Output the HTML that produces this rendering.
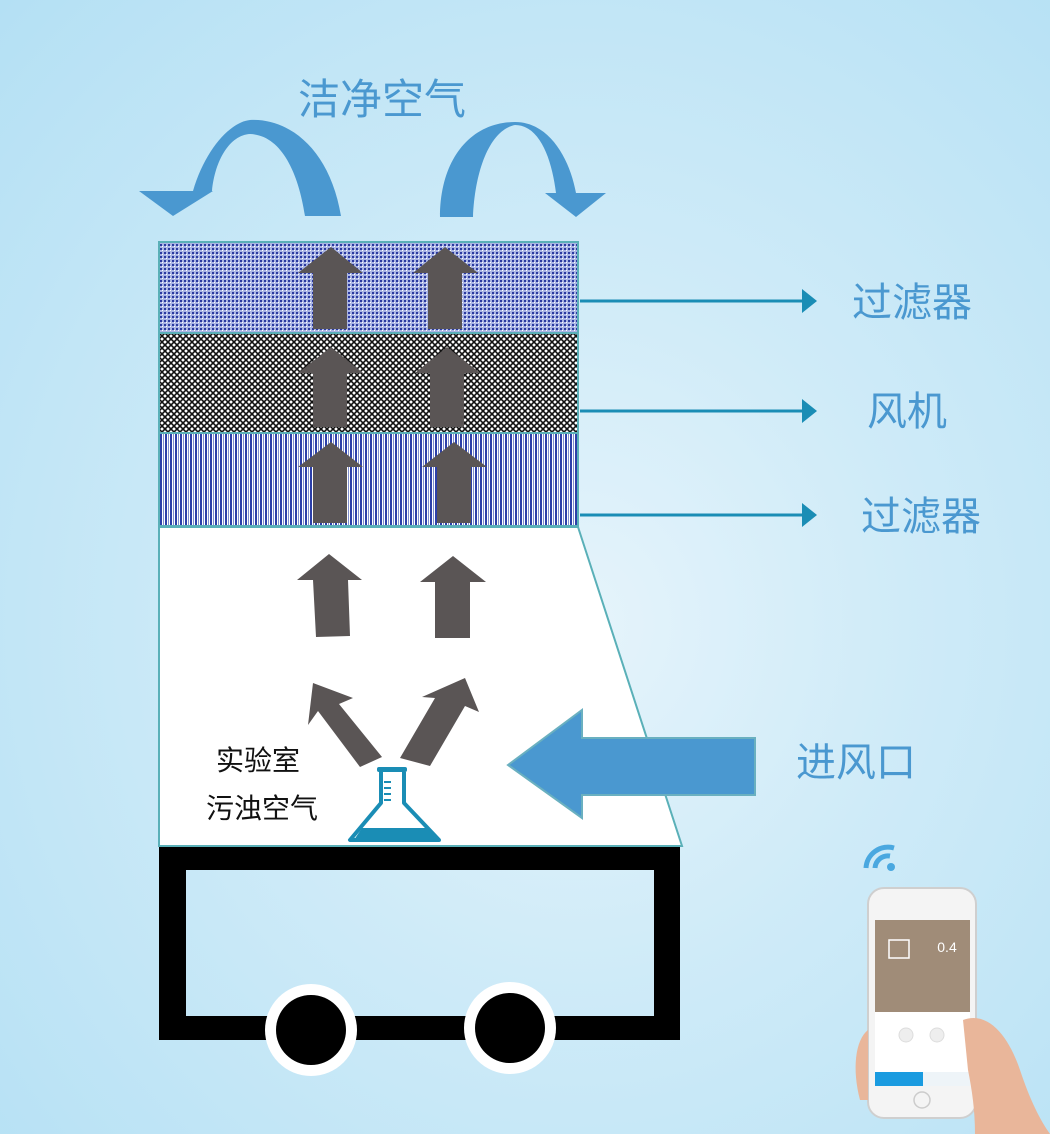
<!DOCTYPE html>
<html><head><meta charset="utf-8"><style>
html,body{margin:0;padding:0}
body{width:1050px;height:1134px;overflow:hidden;background:radial-gradient(ellipse at 55% 55%,#e6f4fb 0%,#cfebf8 40%,#b4e0f4 100%);font-family:"Liberation Sans","Noto Sans CJK SC",sans-serif}
</style></head><body>
<svg width="1050" height="1134" viewBox="0 0 1050 1134" xmlns="http://www.w3.org/2000/svg" style="position:absolute;left:0;top:0">
<defs>
<pattern id="dots" width="4" height="4" patternUnits="userSpaceOnUse"><rect width="4" height="4" fill="#aab5e4"/><rect x="0" y="0" width="2" height="2" fill="#2b3aa0"/><rect x="2" y="2" width="1" height="1" fill="#fff"/></pattern>
<pattern id="net" width="6" height="6" patternUnits="userSpaceOnUse"><rect width="6" height="6" fill="#fff"/><path d="M0 0L6 6M6 0L0 6" stroke="#111" stroke-width="1.6"/></pattern>
<pattern id="stripes" width="5" height="10" patternUnits="userSpaceOnUse"><rect width="5" height="10" fill="#fff"/><rect x="0" width="2" height="10" fill="#2c3fa8"/><rect x="3" width="1" height="10" fill="#8090d0"/></pattern>
</defs>
<text x="382" y="114" text-anchor="middle" font-size="42" fill="#4a98d0" font-family="Liberation Sans,Noto Sans CJK SC,sans-serif">洁净空气</text>
<!-- curved arrows -->
<path d="M193 191 C205 150 230 122 250 120 C290 118 330 150 341 216 L305 216 C298 170 280 135 250 134 C230 135 215 160 212 191 L214 191 L211 191 Z" fill="#4a98d0"/>
<path d="M139 191 L213 191 L173 216 Z" fill="#4a98d0"/>
<path d="M440 217 C440 160 470 122 515 122 C550 122 570 160 576 193 L556 193 C552 160 540 125 515 125 C490 130 475 170 473 217 Z" fill="#4a98d0"/>
<path d="M545 193 L606 193 L576 217 Z" fill="#4a98d0"/>
<!-- filter stack -->
<rect x="159" y="242" width="419" height="91" fill="url(#dots)" stroke="#5ab0b8" stroke-width="2"/>
<rect x="159" y="333" width="419" height="100" fill="url(#net)" stroke="#5ab0b8" stroke-width="2"/>
<rect x="159" y="433" width="419" height="93" fill="url(#stripes)" stroke="#5ab0b8" stroke-width="2"/>
<!-- trapezoid -->
<path d="M159 527 L578 527 L682 846 L159 846 Z" fill="#fff" stroke="#5ab0b8" stroke-width="2"/>
<g fill="#5a5555">
<path d="M331 247 L363 273 L347 273 L347 329 L313 329 L313 273 L298 273 Z"/>
<path d="M445 247 L478 273 L462 273 L462 329 L428 329 L428 273 L413 273 Z"/>
<path d="M331 347 L363 373 L347 373 L347 427 L313 427 L313 373 L298 373 Z"/>
<path d="M447 347 L480 373 L464 373 L464 427 L430 427 L430 373 L415 373 Z"/>
<path d="M331 442 L363 467 L347 467 L347 523 L313 523 L313 467 L298 467 Z"/>
<path d="M454 442 L487 467 L471 467 L471 523 L437 523 L437 467 L422 467 Z"/>
<path d="M329 554 L362 580 L348 580 L350 636 L316 637 L313 580 L297 580 Z"/>
<path d="M453 556 L486 582 L470 582 L470 638 L435 638 L435 582 L420 582 Z"/>
<path d="M465 678 L479 712 L465 706 L430 766 L400 758 L435 698 L422 697 Z"/>
<path d="M313 683 L353 698 L339 704 L382 757 L360 767 L318 711 L308 725 Z"/>
</g>
<!-- flask -->
<g stroke="#1a8db5" stroke-width="4" fill="none" stroke-linejoin="round">
<path d="M381 772 L381 803 L350 840 L439 840 L404 803 L404 772"/>
</g>
<rect x="377" y="767" width="30" height="5" rx="2" fill="#1a8db5"/>
<path d="M362 828 L428 828 L436 840 L354 840 Z" fill="#1a8db5"/>
<g stroke="#1a8db5" stroke-width="2"><line x1="384" y1="782" x2="391" y2="782"/><line x1="384" y1="788" x2="391" y2="788"/><line x1="384" y1="794" x2="391" y2="794"/><line x1="384" y1="800" x2="391" y2="800"/></g>
<text x="258" y="770" text-anchor="middle" font-size="28" fill="#111" font-family="Liberation Sans,Noto Sans CJK SC,sans-serif">实验室</text>
<text x="262" y="818" text-anchor="middle" font-size="28" fill="#111" font-family="Liberation Sans,Noto Sans CJK SC,sans-serif">污浊空气</text>
<!-- inlet arrow -->
<path d="M508 765 L582 710 L582 738 L755 738 L755 795 L582 795 L582 818 Z" fill="#4a98d0" stroke="#6ab0c0" stroke-width="2"/>
<text x="856" y="776" text-anchor="middle" font-size="40" fill="#4a98d0" font-family="Liberation Sans,Noto Sans CJK SC,sans-serif">进风口</text>
<!-- connectors -->
<g stroke="#1a8db5" stroke-width="3"><line x1="580" y1="301" x2="804" y2="301"/><line x1="580" y1="411" x2="804" y2="411"/><line x1="580" y1="515" x2="804" y2="515"/></g>
<g fill="#1a8db5"><path d="M802 289 L817 301 L802 313 Z"/><path d="M802 399 L817 411 L802 423 Z"/><path d="M802 503 L817 515 L802 527 Z"/></g>
<g font-size="40" fill="#4a98d0" font-family="Liberation Sans,Noto Sans CJK SC,sans-serif">
<text x="912" y="316" text-anchor="middle">过滤器</text>
<text x="907" y="425" text-anchor="middle">风机</text>
<text x="921" y="530" text-anchor="middle">过滤器</text>
</g>
<!-- cart -->
<path fill="#000" fill-rule="evenodd" d="M159 847 L680 847 L680 1040 L159 1040 Z M186 870 L654 870 L654 1016 L186 1016 Z"/>
<circle cx="311" cy="1030" r="46" fill="#fff"/><circle cx="311" cy="1030" r="35" fill="#000"/>
<circle cx="510" cy="1028" r="46" fill="#fff"/><circle cx="510" cy="1028" r="35" fill="#000"/>
<!-- phone -->
<g>
<path d="M866 868 A22 22 0 0 1 894 848" stroke="#4aa8e0" stroke-width="5" fill="none"/>
<path d="M875 868 A13 13 0 0 1 890 856" stroke="#4aa8e0" stroke-width="5" fill="none"/>
<circle cx="891" cy="867" r="4" fill="#4aa8e0"/>
<rect x="868" y="888" width="108" height="230" rx="16" fill="#f4f4f4" stroke="#cfcfcf" stroke-width="2"/>
<rect x="875" y="920" width="95" height="92" fill="#a08c78"/>
<rect x="875" y="1012" width="95" height="60" fill="#fff"/>
<rect x="875" y="1072" width="48" height="14" fill="#1a9be0"/>
<rect x="923" y="1072" width="47" height="14" fill="#eef4f8"/>
<rect x="889" y="940" width="20" height="18" fill="none" stroke="#fff" stroke-width="1.5"/>
<text x="947" y="952" font-size="14" fill="#fff" text-anchor="middle">0.4</text>
<circle cx="906" cy="1035" r="7" fill="#eee" stroke="#ddd"/><circle cx="937" cy="1035" r="7" fill="#eee" stroke="#ddd"/>
<circle cx="922" cy="1100" r="8" fill="none" stroke="#ccc" stroke-width="1.5"/>
<path d="M963 1020 C990 1010 1010 1040 1020 1070 C1030 1100 1040 1120 1050 1134 L975 1134 C975 1110 972 1090 968 1070 Z" fill="#e9b69a"/>
<path d="M868 1030 C855 1040 852 1070 860 1100 L868 1100 Z" fill="#e9b69a"/>
</g>
</svg>
</body></html>
